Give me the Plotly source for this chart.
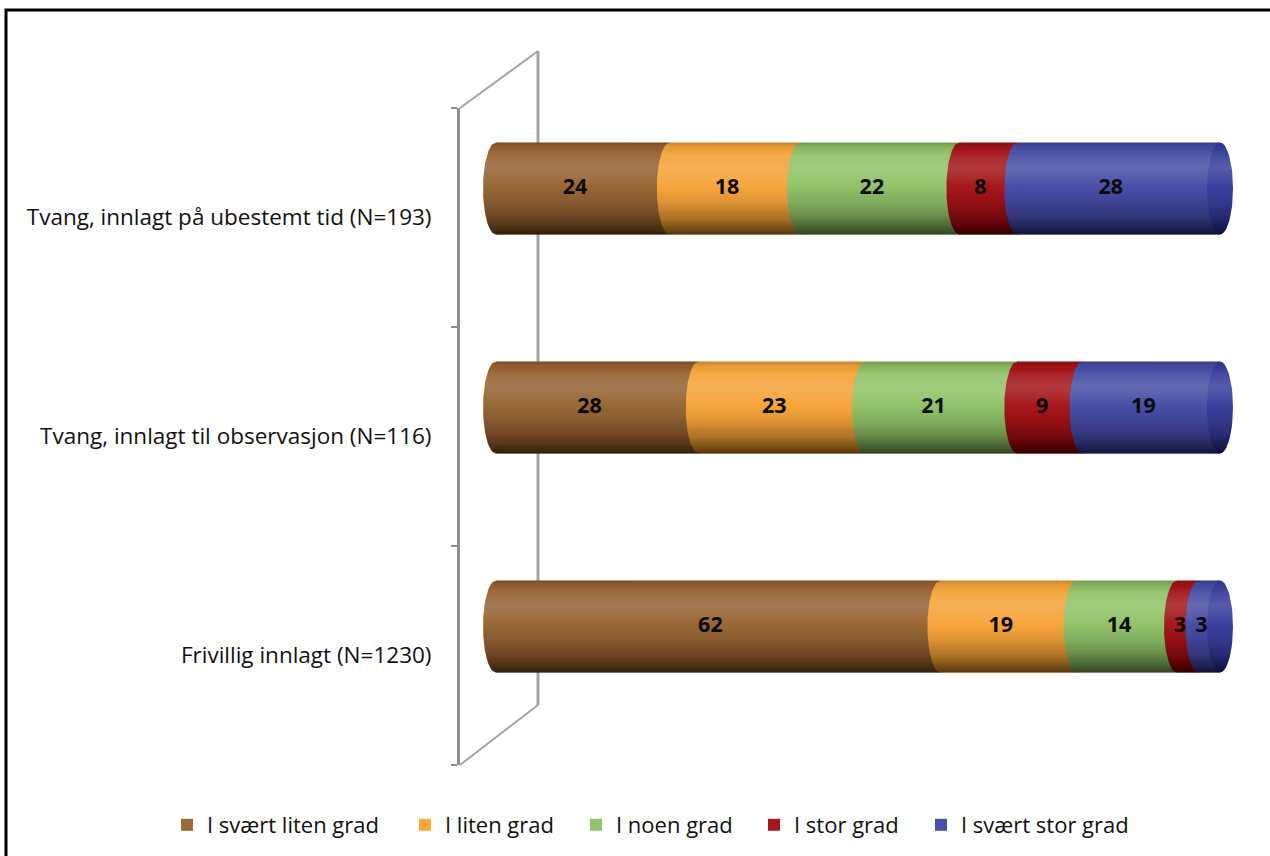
import numpy as np
import plotly.graph_objects as go

# ---- data -------------------------------------------------------------
categories = [
    "Frivillig innlagt (N=1230)",
    "Tvang, innlagt til observasjon (N=116)",
    "Tvang, innlagt på ubestemt tid (N=193)",
]
series_names = ["I svært liten grad", "I liten grad", "I noen grad",
                "I stor grad", "I svært stor grad"]
svaert_liten_grad = [62, 28, 24]
liten_grad = [19, 23, 18]
noen_grad = [14, 21, 22]
stor_grad = [3, 9, 8]
svaert_stor_grad = [3, 19, 28]

colors = ["#9B6838", "#F7A73D", "#93C46C", "#A8191D", "#4A50A8"]
cap_color = "#3C41A0"
FONT = "Open Sans"

# ---- geometry (page pixels) -----------------------------------------
W, H = 1270, 856
PLOT_L, PLOT_R = 460, 1257      # front wall line / right end of plot area
PLOT_T, PLOT_B = 108, 765       # front wall top / bottom
X0_PX = 496                     # where the cylinders start
PX_PER_UNIT = 7.24              # pixels per percent
LEGEND_TEXT_X = [208, 446, 617, 795, 962]   # where each legend label begins
LEGEND_Y = 825


def px_x(p):
    return p / W


def px_y(p):
    return 1 - p / H


px_per_cat = (PLOT_B - PLOT_T) / len(categories)
x_range = [(PLOT_L - X0_PX) / PX_PER_UNIT, (PLOT_R - X0_PX) / PX_PER_UNIT]
BAR_W = 92 / px_per_cat          # cylinder diameter in category units
HALF = BAR_W / 2
DEPTH_DY = 29 / px_per_cat       # cylinders sit half-way into the 3D box
RX = 13 / PX_PER_UNIT            # horizontal radius of the elliptic faces
SEAM_PAD = 1.2 / PX_PER_UNIT     # overlap that hides anti-aliasing seams

values = np.array([svaert_liten_grad, liten_grad, noen_grad,
                   stor_grad, svaert_stor_grad], dtype=float)
pct = values / values.sum(axis=0) * 100          # 100 % stacked
ends = np.cumsum(pct, axis=0)
bases = ends - pct
row_end = ends[-1]
ypos = np.arange(len(categories)) + DEPTH_DY

fig = go.Figure()
legend_ids = ["legend"] + [f"legend{i}" for i in range(2, len(series_names) + 1)]

# ---- cylinder bodies ---------------------------------------------------
for s, name in enumerate(series_names):
    fig.add_trace(go.Bar(
        y=ypos, x=pct[s], base=bases[s], orientation="h", width=BAR_W,
        name=name, marker=dict(color=colors[s], line=dict(width=0)),
        legend=legend_ids[s], hoverinfo="skip",
    ))

t_full = np.linspace(-1, 1, 61)


def lens(x0, yc):
    """Front half of a circular seam seen in perspective (bulges left)."""
    xr = x0 + SEAM_PAD
    xs = list(x0 - RX * np.sqrt(1 - t_full ** 2)) + [xr, xr]
    ys = list(yc + t_full * HALF) + [yc + HALF, yc - HALF]
    return xs, ys


# curved seams: each segment's front face covers the previous one
for s in range(len(series_names)):
    xs, ys = [], []
    for c in range(len(categories)):
        if pct[s][c] <= 0:
            continue
        lx, ly = lens(bases[s][c], ypos[c])
        xs += lx + [None]
        ys += ly + [None]
    fig.add_trace(go.Scatter(x=xs, y=ys, mode="lines", fill="toself",
                             fillcolor=colors[s], line=dict(width=0),
                             hoverinfo="skip", showlegend=False))

# end caps
theta = np.linspace(0, 2 * np.pi, 90)
xs, ys = [], []
for c in range(len(categories)):
    xs += list(row_end[c] + RX * np.cos(theta)) + [None]
    ys += list(ypos[c] + HALF * np.sin(theta)) + [None]
fig.add_trace(go.Scatter(x=xs, y=ys, mode="lines", fill="toself",
                         fillcolor=cap_color, line=dict(width=0),
                         hoverinfo="skip", showlegend=False))


# ---- cylindrical shading (nested translucent bands) ---------------------
def band(ta, tb, rgba):
    t = np.linspace(ta, tb, 12)
    xs, ys = [], []
    for c in range(len(categories)):
        left = 0 - RX * np.sqrt(np.clip(1 - t ** 2, 0, 1))
        right = row_end[c] + RX * np.sqrt(np.clip(1 - t ** 2, 0, 1))
        xs += list(left) + list(right[::-1]) + [None]
        ys += list(ypos[c] + t * HALF) + list(ypos[c] + t[::-1] * HALF) + [None]
    fig.add_trace(go.Scatter(x=xs, y=ys, mode="lines", fill="toself",
                             fillcolor=rgba, line=dict(width=0),
                             hoverinfo="skip", showlegend=False))


# darkening toward the lower edge
edges = np.linspace(-1, 0.15, 24)
f = np.interp((edges[:-1] + edges[1:]) / 2,
              [-1, -0.85, -0.6, -0.3, 0.0, 0.15],
              [0.38, 0.54, 0.75, 0.90, 0.99, 1.0])
f_next = np.append(f[1:], 1.0)
for j in range(len(f)):
    a = 1 - f[j] / f_next[j]
    if a > 0.001:
        band(-1, edges[j + 1], f"rgba(0,0,0,{a:.4f})")

# slight darkening at the upper edge
edges_t = np.linspace(0.72, 1, 10)
f_t = np.interp((edges_t[:-1] + edges_t[1:]) / 2,
                [0.72, 0.9, 1.0], [1.0, 0.94, 0.8])
f_prev = np.insert(f_t[:-1], 0, 1.0)
for j in range(len(f_t)):
    a = 1 - f_t[j] / f_prev[j]
    if a > 0.001:
        band(edges_t[j], 1, f"rgba(0,0,0,{a:.4f})")

# soft highlight in the upper half
for w in np.linspace(0.38, 0.06, 8):
    band(0.45 - w, 0.45 + w, "rgba(255,255,255,0.018)")

# ---- value labels --------------------------------------------------------
lx, ly, lt = [], [], []
for s in range(len(series_names)):
    for c in range(len(categories)):
        lx.append(bases[s][c] + pct[s][c] / 2 - 0.6 * RX)
        ly.append(ypos[c])
        lt.append(f"{values[s][c]:.0f}")
fig.add_trace(go.Scatter(x=lx, y=ly, text=lt, mode="text",
                         textposition="middle center",
                         textfont=dict(family=FONT, size=21.5, color="#0a0a0a",
                                       weight="bold"),
                         hoverinfo="skip", showlegend=False))

# ---- 3D frame (back wall + floor/ceiling edges) ---------------------------
frame = dict(color="#A3A3A3", width=3)
fig.add_shape(type="line", xref="paper", yref="paper",
              x0=px_x(538), y0=px_y(51), x1=px_x(538), y1=px_y(705),
              line=frame, layer="below")
fig.add_shape(type="line", xref="paper", yref="paper",
              x0=px_x(460), y0=px_y(108), x1=px_x(538), y1=px_y(51),
              line=dict(color="#A3A3A3", width=2), layer="below")
fig.add_shape(type="line", xref="paper", yref="paper",
              x0=px_x(460), y0=px_y(765), x1=px_x(538), y1=px_y(705),
              line=dict(color="#A3A3A3", width=2), layer="below")

# page border
fig.add_shape(type="rect", xref="paper", yref="paper",
              x0=px_x(6), y0=px_y(900), x1=px_x(1300), y1=px_y(10),
              line=dict(color="black", width=3), layer="above")

# one single-entry legend per series so each entry sits at its own spot
legend_layout = {}
for s, lid in enumerate(legend_ids):
    legend_layout[lid] = dict(
        orientation="h", x=px_x(LEGEND_TEXT_X[s] - 41), xanchor="left",
        y=px_y(LEGEND_Y), yanchor="middle",
        font=dict(size=22, color="#111111"),
        bgcolor="rgba(0,0,0,0)", itemclick=False, itemdoubleclick=False)

fig.update_layout(
    width=W, height=H,
    margin=dict(l=0, r=0, t=0, b=0),
    paper_bgcolor="white", plot_bgcolor="rgba(0,0,0,0)",
    barmode="overlay",
    hovermode=False,
    font=dict(family=FONT, color="#111111"),
    xaxis=dict(visible=False, range=x_range,
               domain=[px_x(PLOT_L), px_x(PLOT_R)], fixedrange=True),
    yaxis=dict(range=[-0.5, len(categories) - 0.5],
               domain=[px_y(PLOT_B), px_y(PLOT_T)],
               tickmode="array", tickvals=list(range(len(categories))),
               ticktext=categories, ticks="", ticklabelstandoff=21,
               tickfont=dict(size=22.5, color="#111111"),
               showline=True, linecolor="#8E8E8E", linewidth=3,
               showgrid=False, zeroline=False, fixedrange=True,
               minor=dict(tickmode="array",
                          tickvals=[-0.5, 0.5, 1.5, 2.5],
                          ticks="outside", ticklen=6, tickwidth=1.5,
                          tickcolor="#8E8E8E", showgrid=False)),
    **legend_layout,
)

fig.write_html("out.html")
